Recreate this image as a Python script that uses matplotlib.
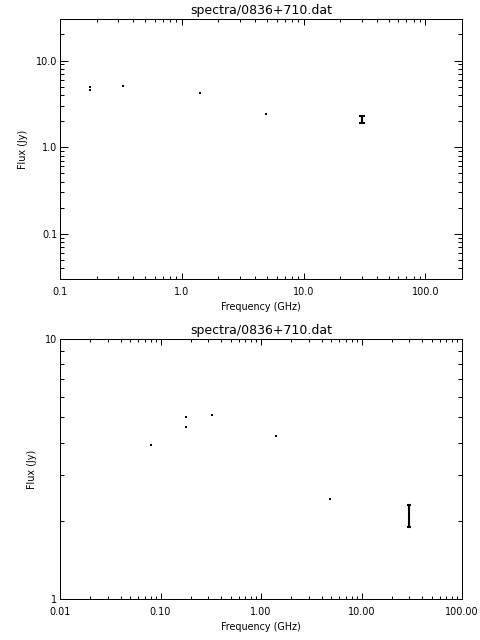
import numpy as np
import matplotlib.pyplot as plt
from matplotlib.ticker import LogLocator, FixedFormatter, NullFormatter, FixedLocator

# spectrum points (GHz, Jy)
freq = [0.081, 0.178, 0.178, 0.327, 1.4, 4.9]
flux = [3.9, 5.0, 4.6, 5.1, 4.25, 2.43]
# point with an error bar
err_freq = [30.0]
err_flux = [2.1]
err_size = [0.21]

title = 'spectra/0836+710.dat'

plt.rcParams['font.family'] = 'DejaVu Sans'
fig = plt.figure(figsize=(4.8, 6.4), dpi=100)

lw = 0.72


def setup_axes(ax, xlim, ylim, xmaj, xlab, ymaj, ylab):
    ax.set_xscale('log')
    ax.set_yscale('log')
    ax.set_xlim(*xlim)
    ax.set_ylim(*ylim)
    ax.xaxis.set_major_locator(FixedLocator(xmaj))
    ax.xaxis.set_major_formatter(FixedFormatter(xlab))
    ax.xaxis.set_minor_locator(LogLocator(base=10, subs=np.arange(2, 10), numticks=20))
    ax.xaxis.set_minor_formatter(NullFormatter())
    ax.yaxis.set_major_locator(FixedLocator(ymaj))
    ax.yaxis.set_major_formatter(FixedFormatter(ylab))
    ax.yaxis.set_minor_locator(LogLocator(base=10, subs=np.arange(2, 10), numticks=20))
    ax.yaxis.set_minor_formatter(NullFormatter())
    ax.tick_params(axis='both', which='both', direction='in', top=True, right=True,
                   width=lw, labelsize=6.9, colors='black')
    ax.tick_params(axis='x', which='major', length=4.3, pad=6.0)
    ax.tick_params(axis='x', which='minor', length=2.2)
    ax.tick_params(axis='y', which='major', length=5.8, pad=2.0)
    ax.tick_params(axis='y', which='minor', length=2.9)
    for s in ax.spines.values():
        s.set_linewidth(lw)
    ax.set_title(title, fontsize=9.0, pad=4)
    ax.set_xlabel('Frequency (GHz)', fontsize=6.9, labelpad=3)
    ax.set_ylabel('Flux (Jy)', fontsize=6.9, labelpad=6)


def draw_points(ax, cap):
    ax.plot(freq, flux, linestyle='none', marker='s', markersize=1.6,
            markeredgewidth=0, color='black')
    ax.errorbar(err_freq, err_flux, yerr=err_size, fmt='none', ecolor='black',
                elinewidth=1.5, capsize=cap, capthick=1.5)


# top panel
ax1 = fig.add_axes([0.125, 0.564, 0.8375, 0.406])
draw_points(ax1, 2.0)
setup_axes(ax1, (0.1, 200.0), (0.03, 30.0),
           [0.1, 1.0, 10.0, 100.0], ['0.1', '1.0', '10.0', '100.0'],
           [0.1, 1.0, 10.0], ['0.1', '1.0', '10.0'])

# bottom panel
ax2 = fig.add_axes([0.125, 0.064, 0.8375, 0.406])
draw_points(ax2, 1.7)
setup_axes(ax2, (0.01, 100.0), (1.0, 10.0),
           [0.01, 0.1, 1.0, 10.0, 100.0], ['0.01', '0.10', '1.00', '10.00', '100.00'],
           [1.0, 10.0], ['1', '10'])

fig.savefig('out.png', dpi=100)
